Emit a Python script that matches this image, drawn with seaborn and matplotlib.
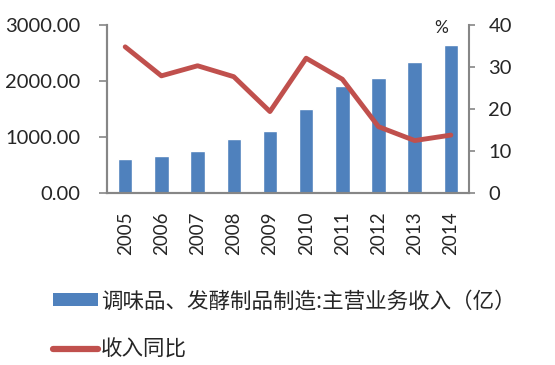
import matplotlib
matplotlib.use("Agg")
import matplotlib.pyplot as plt
from matplotlib.patches import Patch
from matplotlib.lines import Line2D
import seaborn as sns
import pandas as pd

# --- data ---
years = ["2005", "2006", "2007", "2008", "2009", "2010", "2011", "2012", "2013", "2014"]
revenue = [600, 670, 760, 960, 1115, 1500, 1905, 2050, 2340, 2650]
yoy = [34.8, 27.9, 30.3, 27.7, 19.4, 32.1, 27.1, 15.8, 12.5, 13.8]

bar_label = "调味品、发酵制品制造:主营业务收入（亿）"
line_label = "收入同比"

BLUE = "#4F81BD"
RED = "#C0504D"
GREY = "#868686"

sns.set_theme(style="white")
plt.rcParams['font.family'] = ['Lato', 'Noto Sans CJK SC', 'DejaVu Sans']

df = pd.DataFrame({"year": years, "revenue": revenue, "yoy": yoy})

fig = plt.figure(figsize=(5.55, 3.65), dpi=100)
ax = fig.add_axes([0.193, 0.471, 0.652, 0.4605])

sns.barplot(data=df, x="year", y="revenue", color=BLUE, width=0.4,
            saturation=1, ax=ax)
ax.set_xlim(-0.5, 9.5)
ax.set_ylim(0, 3000)
ax.set_yticks([0, 1000, 2000, 3000])
ax.set_yticklabels([f"{v:.2f}" for v in [0, 1000, 2000, 3000]], fontsize=14.5)
ax.set_xlabel("")
ax.set_ylabel("")
ax.tick_params(axis="x", labelrotation=90, labelsize=13.5, length=0, pad=13)
ax.tick_params(axis="y", length=6, width=1.2, color=GREY, direction="out", left=True, pad=13)

ax2 = ax.twinx()
sns.lineplot(data=df, x="year", y="yoy", color=RED, linewidth=3.5, ax=ax2,
             solid_capstyle="round")
ax2.set_ylim(0, 40)
ax2.set_yticks([0, 10, 20, 30, 40])
ax2.set_yticklabels(["0", "10", "20", "30", "40"], fontsize=14.5)
ax2.set_ylabel("")
ax2.set_xlabel("")
ax2.tick_params(axis="y", length=4, width=1.2, color=GREY, direction="out", right=True, pad=10)

for a in (ax, ax2):
    a.spines["top"].set_visible(False)
    for s in ("left", "right", "bottom"):
        a.spines[s].set_color(GREY)
        a.spines[s].set_linewidth(1.5)
ax.spines["right"].set_visible(False)

ax2.text(0.923, 0.985, "%", transform=ax2.transAxes, ha="center", va="center",
         fontsize=12.5)

handles = [Patch(facecolor=BLUE, edgecolor="none"),
           Line2D([0], [0], color=RED, linewidth=4.5, solid_capstyle="round")]
fig.legend(handles, [bar_label, line_label], loc="upper left",
           bbox_to_anchor=(0.06, 0.258), frameon=False,
           handlelength=2.1, handleheight=0.5, handletextpad=0.15, labelspacing=1.25,
           prop={"family": ["Noto Sans CJK SC", "DejaVu Sans"], "size": 15.5})

fig.savefig("out.png", dpi=100)
